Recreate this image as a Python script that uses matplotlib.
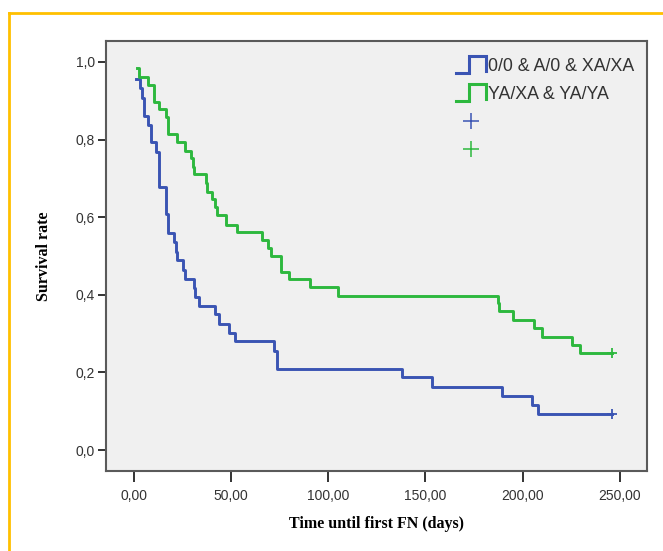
import numpy as np
import matplotlib
matplotlib.use("Agg")
from matplotlib import pyplot as plt
from matplotlib.lines import Line2D
from matplotlib.legend_handler import HandlerBase
from matplotlib.ticker import FuncFormatter

# Kaplan-Meier steps (time in days, survival after the step)
blue_t = [1.3, 3.3, 4.4, 5.4, 7.5, 8.8, 11.6, 12.9, 16.7, 17.9, 20.8, 21.8, 22.5,
          25.6, 26.6, 31.1, 31.8, 33.8, 41.9, 44.1, 49.1, 52.0, 72.4, 73.6,
          137.8, 153.6, 189.2, 204.6, 208.0]
blue_s = [0.956, 0.932, 0.906, 0.862, 0.838, 0.793, 0.769, 0.677, 0.607, 0.558,
          0.537, 0.511, 0.490, 0.464, 0.441, 0.417, 0.394, 0.371, 0.350, 0.325,
          0.302, 0.280, 0.256, 0.208, 0.187, 0.163, 0.140, 0.116, 0.094]
blue_censor = 245.7

green_t = [1.6, 2.8, 7.6, 10.7, 13.3, 16.7, 17.9, 22.2, 26.5, 29.5, 30.4, 31.1,
           37.3, 37.9, 40.5, 41.7, 43.0, 47.5, 53.3, 65.9, 69.3, 70.5, 75.8, 80.0,
           90.7, 105.2, 187.5, 188.0, 195.2, 205.8, 210.1, 225.2, 229.4]
green_s = [0.984, 0.960, 0.941, 0.898, 0.879, 0.857, 0.814, 0.793, 0.771, 0.752,
           0.730, 0.711, 0.687, 0.666, 0.647, 0.626, 0.605, 0.581, 0.563, 0.541,
           0.520, 0.500, 0.460, 0.440, 0.420, 0.398, 0.378, 0.357, 0.335, 0.314,
           0.292, 0.271, 0.249]
green_censor = 245.7

labels = ['0/0 & A/0 & XA/XA', 'YA/XA & YA/YA']
xticks = [0, 50, 100, 150, 200, 250]
yticks = [0.0, 0.2, 0.4, 0.6, 0.8, 1.0]

BLUE = '#3a54b3'
GREEN = '#2db83e'


class StepHandler(HandlerBase):
    # draws the little step icon SPSS puts in its survival legends
    def create_artists(self, legend, orig_handle, xdescent, ydescent,
                       width, height, fontsize, trans):
        xs = np.array([0.0, 0.45, 0.45, 1.0, 1.0]) * width - xdescent
        ys = np.array([-0.15, -0.15, 1.15, 1.15, -0.05]) * height - ydescent
        ln = Line2D(xs, ys, color=orig_handle.get_color(), lw=2.2,
                    solid_joinstyle='miter', transform=trans)
        return [ln]


fig = plt.figure(figsize=(6.63, 5.51), dpi=100)
ax = fig.add_axes([0.160, 0.1452, 0.816, 0.7804])
ax.set_facecolor('#f0f0f0')

for t, s, c, col in [(blue_t, blue_s, blue_censor, BLUE),
                     (green_t, green_s, green_censor, GREEN)]:
    tt = list(t) + [c]
    ss = list(s) + [s[-1]]
    ax.step(tt, ss, where='post', color=col, lw=2.1)
    ax.plot([c], [s[-1]], marker='+', color=col, ms=7, mew=1.3, ls='none')

ax.set_xlim(-14.1, 263.9)
ax.set_ylim(-0.054, 1.054)
ax.set_xticks(xticks)
ax.set_yticks(yticks)
ax.xaxis.set_major_formatter(FuncFormatter(lambda v, p: ('%.2f' % v).replace('.', ',')))
ax.yaxis.set_major_formatter(FuncFormatter(lambda v, p: ('%.1f' % v).replace('.', ',')))
ax.tick_params(axis='both', direction='out', length=6, width=1.4, color='#333333',
               labelsize=10, labelcolor='#333333', pad=2)
ax.tick_params(axis='x', length=8, pad=5)
for lab in ax.get_xticklabels() + ax.get_yticklabels():
    lab.set_family('Liberation Sans')
for sp in ax.spines.values():
    sp.set_color('#5a5a5a')
    sp.set_linewidth(1.5)

ax.set_xlabel('Time until first FN (days)', family='Liberation Serif', weight='bold',
              fontsize=11.5, labelpad=9)
ax.set_ylabel('Survival rate', family='Liberation Serif', weight='bold',
              fontsize=11.5, labelpad=17)

handles = [Line2D([], [], color=BLUE), Line2D([], [], color=GREEN),
           Line2D([], [], color=BLUE, marker='+', ls='none', ms=12, mew=1.1),
           Line2D([], [], color=GREEN, marker='+', ls='none', ms=12, mew=1.1)]
leg = ax.legend(handles, labels + ['', ''], loc='upper right', frameon=False,
                handler_map={handles[0]: StepHandler(), handles[1]: StepHandler()},
                prop={'family': 'Liberation Sans', 'size': 12.8},
                handlelength=1.7, handletextpad=0.15, labelspacing=0.62,
                borderaxespad=0.3, bbox_to_anchor=(1.0, 0.99))
for txt in leg.get_texts():
    txt.set_color('#333333')

# orange frame around the figure (left and top edges visible)
fig.add_artist(Line2D([9 / 663, 9 / 663], [0, 1 - 13 / 551], color='#ffc000', lw=2,
                      transform=fig.transFigure))
fig.add_artist(Line2D([9 / 663, 1], [1 - 13 / 551, 1 - 13 / 551], color='#ffc000', lw=2,
                      transform=fig.transFigure))

plt.savefig('out.png', dpi=100)
